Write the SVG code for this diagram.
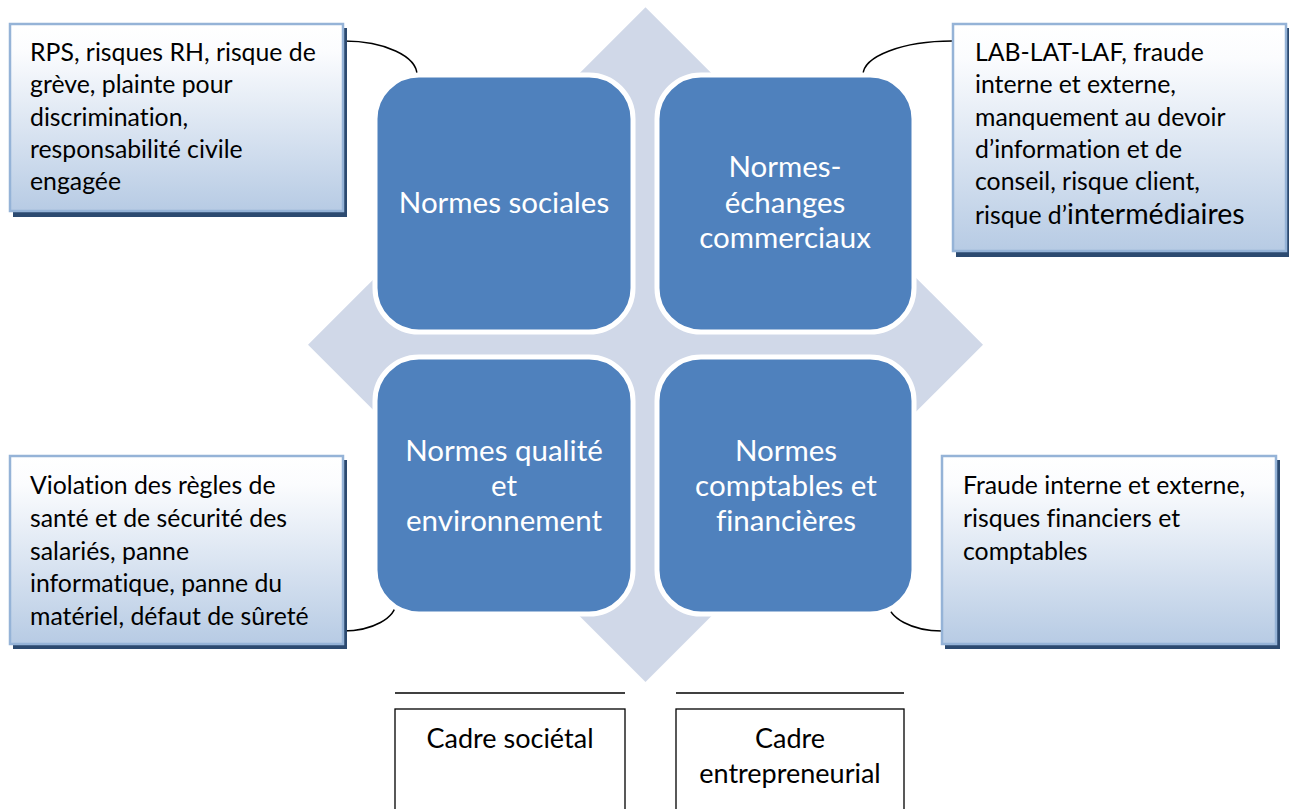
<svg xmlns="http://www.w3.org/2000/svg" width="1289" height="809" viewBox="0 0 1289 809">
<defs>
<linearGradient id="cg" x1="0" y1="0" x2="0" y2="1">
<stop offset="0" stop-color="#ffffff"/>
<stop offset="0.15" stop-color="#fbfcfe"/>
<stop offset="1" stop-color="#b7cbe4"/>
</linearGradient>
<style>
text{font-variant-ligatures:none}
.bg{fill:#d0d8e8}
.sq{fill:#4f81bd;stroke:#ffffff;stroke-width:5}
.sqt{font-family:Lato,"Open Sans",sans-serif;font-size:29.5px;fill:#ffffff;text-anchor:middle}
.cb{fill:url(#cg);stroke:#95b3d7;stroke-width:2.5}
.sh{fill:#2c4a70}
.ct{font-family:Lato,"Open Sans",sans-serif;font-size:24.8px;fill:#000000}
.con{fill:none;stroke:#000000;stroke-width:1.5}
.lb{fill:#ffffff;stroke:#000000;stroke-width:1.3}
.ln{stroke:#000000;stroke-width:1.5}
.lt{font-family:Lato,"Open Sans",sans-serif;font-size:27px;fill:#000000;text-anchor:middle}
</style>
</defs>
<rect width="1289" height="809" fill="#ffffff"/>
<g id="background">
<polygon class="bg" points="645.5,7.3 983,344.8 645.5,682 308,344.8"/>
</g>
<g id="connectors">
<path class="con" d="M344,41 A73,34 0 0 1 417,75"/>
<path class="con" d="M952,41 A89,34 0 0 0 863,75"/>
<path class="con" d="M343,631 A53,29 0 0 0 396,602"/>
<path class="con" d="M942,631 A54,29 0 0 1 888,602"/>
</g>
<g id="sq-sociales">
<rect class="sq" x="375" y="75" width="258" height="257" rx="44"/>
<text class="sqt" x="504" y="213">Normes sociales</text>
</g>
<g id="sq-echanges">
<rect class="sq" x="657" y="75" width="257" height="257" rx="44"/>
<text class="sqt" x="785" y="177">Normes-</text>
<text class="sqt" x="785" y="213">échanges</text>
<text class="sqt" x="785" y="248">commerciaux</text>
</g>
<g id="sq-qualite">
<rect class="sq" x="375" y="357" width="258" height="257" rx="44"/>
<text class="sqt" x="504" y="461">Normes qualité</text>
<text class="sqt" x="504" y="496">et</text>
<text class="sqt" x="504" y="531">environnement</text>
</g>
<g id="sq-comptables">
<rect class="sq" x="657" y="357" width="257" height="257" rx="44"/>
<text class="sqt" x="786" y="461">Normes</text>
<text class="sqt" x="786" y="496">comptables et</text>
<text class="sqt" x="786" y="531">financières</text>
</g>
<g id="callout-tl">
<rect class="sh" x="13" y="28" width="334" height="189"/>
<rect class="cb" x="10" y="24" width="333" height="187"/>
<text class="ct" x="30" y="61">RPS, risques RH, risque de</text>
<text class="ct" x="30" y="93">grève, plainte pour</text>
<text class="ct" x="30" y="126">discrimination,</text>
<text class="ct" x="30" y="158">responsabilité civile</text>
<text class="ct" x="30" y="190">engagée</text>
</g>
<g id="callout-tr">
<rect class="sh" x="956" y="28" width="334" height="229"/>
<rect class="cb" x="953" y="24" width="333" height="227"/>
<text class="ct" x="975" y="61">LAB-LAT-LAF, fraude</text>
<text class="ct" x="975" y="93">interne et externe,</text>
<text class="ct" x="975" y="126">manquement au devoir</text>
<text class="ct" x="975" y="158">d’information et de</text>
<text class="ct" x="975" y="190">conseil, risque client,</text>
<text class="ct" x="975" y="224">risque d’<tspan font-size="28.5px">intermédiaires</tspan></text>
</g>
<g id="callout-bl">
<rect class="sh" x="13" y="460" width="334" height="189"/>
<rect class="cb" x="10" y="456" width="333" height="188"/>
<text class="ct" x="30" y="494">Violation des règles de</text>
<text class="ct" x="30" y="527">santé et de sécurité des</text>
<text class="ct" x="30" y="560">salariés, panne</text>
<text class="ct" x="30" y="592">informatique, panne du</text>
<text class="ct" x="30" y="625">matériel, défaut de sûreté</text>
</g>
<g id="callout-br">
<rect class="sh" x="945" y="460" width="335" height="189"/>
<rect class="cb" x="942" y="456" width="334" height="188"/>
<text class="ct" x="963" y="494">Fraude interne et externe,</text>
<text class="ct" x="963" y="527">risques financiers et</text>
<text class="ct" x="963" y="560">comptables</text>
</g>
<g id="cadre-societal">
<line class="ln" x1="395" y1="693" x2="625" y2="693"/>
<rect class="lb" x="395" y="709" width="230" height="110"/>
<text class="lt" x="510" y="748">Cadre sociétal</text>
</g>
<g id="cadre-entrepreneurial">
<line class="ln" x1="676" y1="693" x2="904" y2="693"/>
<rect class="lb" x="676" y="709" width="228" height="110"/>
<text class="lt" x="790" y="748">Cadre</text>
<text class="lt" x="790" y="783">entrepreneurial</text>
</g>
</svg>
